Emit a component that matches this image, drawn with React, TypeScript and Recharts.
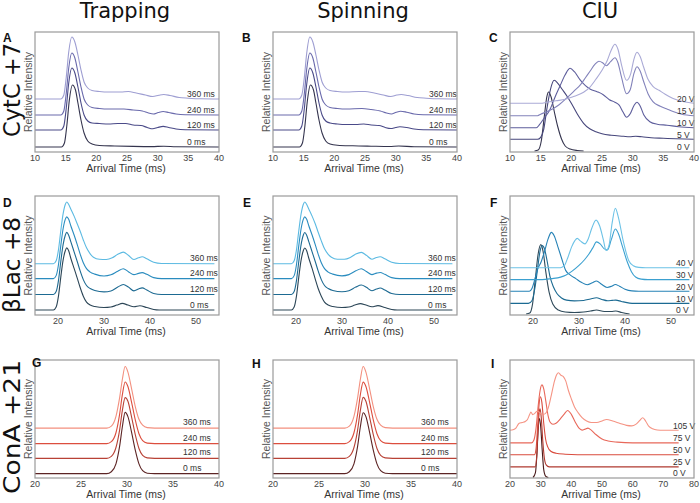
import { LineChart, Line, XAxis, YAxis, ReferenceDot } from "recharts";

type Pt = [number, number];

// ---- text ----
const columnTitles = ["Trapping", "Spinning", "CIU"];
const rowLabels = ["CytC +7", "\u03B2Lac +8", "ConA +21"];
const panelLetters = ["A", "B", "C", "D", "E", "F", "G", "H", "I"];
const timeLabels = ["0 ms", "120 ms", "240 ms", "360 ms"];
const ciuLabelsCytC = ["0 V", "5 V", "10 V", "15 V", "20 V"];
const ciuLabelsBLac = ["0 V", "10 V", "20 V", "30 V", "40 V"];
const ciuLabelsConA = ["0 V", "25 V", "50 V", "75 V", "105 V"];

// ---- x axis ticks ----
const ticksCytC = [10, 15, 20, 25, 30, 35, 40];
const ticksBLac = [20, 30, 40, 50];
const ticksConA = [20, 25, 30, 35, 40];
const ticksConACiu = [20, 30, 40, 50, 60, 70, 80];

// ---- baselines (stack offsets, intensity units) ----
const offsetsA = [5, 22, 37, 53];
const offsetsB = [5, 22, 37, 53];
const offsetsC = [1, 12.7, 24.3, 36.3, 48.7];
const offsetsD = [5, 20.7, 36.7, 51.7];
const offsetsE = [5, 20.7, 36.7, 51.7];
const offsetsF = [1, 11.7, 24, 35.7, 47.7];
const offsetsG = [4.4, 20, 35, 50.7];
const offsetsH = [4.4, 20, 35, 50.7];
const offsetsI = [0.5, 11.3, 23.7, 35.7, 48.5];

// ---- CytC +7, trapping ----
const a0: Pt[] = [[10,0],[14.3,0],[14.8,4],[15.2,22],[15.6,47],[16.1,62],[16.6,57],[17,44],[17.5,27],[18,14],[18.6,6],[19.3,3],[20.5,1.5],[23,1],[26,0.6],[29,0.4],[31,0.8],[33,0.3],[40,0]];
const a1: Pt[] = [[10,0],[14.2,0],[14.7,4],[15.1,22],[15.5,47],[16,62],[16.5,57],[17,43],[17.5,27],[18,15],[18.6,9],[19.3,7],[20.5,6.5],[22,6],[23.5,6.5],[24.8,6.5],[26,5],[27.3,4.5],[28.3,2.5],[29.2,1.2],[30,2.5],[30.9,3.6],[31.8,2.5],[33,1],[34.5,0.3],[40,0]];
const a2: Pt[] = [[10,0],[14.2,0],[14.7,4],[15.1,22],[15.5,47],[16,62],[16.5,57],[17,43],[17.5,28],[18,16],[18.6,10],[19.3,7.5],[20.5,6.5],[22,6],[24.5,6],[26,5],[27.5,4],[28.5,2],[29.3,1],[30.1,2.5],[30.9,3.5],[31.8,2.5],[33,1],[34.5,0.3],[40,0]];
const a3: Pt[] = [[10,0],[14.2,0],[14.7,4],[15.1,22],[15.5,47],[16,62],[16.5,57],[17,44],[17.5,29],[18,17],[18.6,11],[19.3,8.5],[20.5,7.5],[22,7],[24,7],[25.2,7.5],[26.5,6],[28,4],[29.2,2.5],[30.2,3.8],[31,4.5],[32,3.5],[33.5,1.5],[35,0.8],[37,0.2],[40,0]];

// ---- CytC +7, spinning ----
const b0: Pt[] = [[10,0],[14.3,0],[14.8,4],[15.2,21],[15.6,46],[16.1,62],[16.6,57],[17,44],[17.5,27],[18,14],[18.6,6],[19.3,3],[20.5,1.8],[23,1.2],[26,0.8],[29,0.5],[30.5,1],[33,0.3],[40,0]];
const b1: Pt[] = [[10,0],[14.2,0],[14.7,4],[15.1,21],[15.5,46],[16,62],[16.5,57],[17,43],[17.5,27],[18,15],[18.6,9],[19.3,7],[20.5,6],[22,5.5],[23.5,5.5],[24.8,6],[26,5],[27.3,4.5],[28.3,2.5],[29.2,1.5],[30,2.5],[30.7,3.2],[31.8,2.5],[33,1],[34.5,0.3],[40,0]];
const b2: Pt[] = [[10,0],[14.2,0],[14.7,4],[15.1,21],[15.5,46],[16,62],[16.5,57],[17,43],[17.5,28],[18,16],[18.6,10],[19.3,7.5],[20.5,6.5],[22,6],[24.5,6.5],[26,5.5],[27.5,4],[28.5,2],[29.3,1],[30.1,2.8],[30.8,3.8],[31.8,2.8],[33,1],[34.5,0.3],[40,0]];
const b3: Pt[] = [[10,0],[14.2,0],[14.7,4],[15.1,21],[15.5,46],[16,62],[16.5,57],[17,44],[17.5,29],[18,17],[18.6,11],[19.3,8.5],[20.5,7.5],[22,7],[24,7.5],[25,7.5],[26.5,6],[28,4],[29.2,2.5],[30.2,4],[30.9,4.5],[32,3.5],[33.5,1.5],[35,0.8],[37,0.2],[40,0]];

// ---- CytC +7, CIU ----
const c0: Pt[] = [[14,0],[14.6,1],[15.1,10],[15.6,35],[16,54],[16.3,59],[16.7,54],[17.2,40],[17.8,24],[18.4,12],[19,5],[19.8,2],[21,0.5],[22,0]];
const c5: Pt[] = [[10,0],[14.5,0],[15,2],[15.5,10],[16,30],[16.6,50],[17.2,59],[17.8,56],[18.5,50],[19.3,43],[20,36],[21,25],[22,16],[23,10.5],[24,7.5],[25,5.5],[26.5,4],[28.5,3],[29.5,2.5],[30.5,3],[31.5,2.5],[33,1.5],[35,1],[37,0.5],[40,0]];
const c10: Pt[] = [[10,0],[14.3,0],[14.8,3],[15.5,9],[16.5,18],[17.3,30],[18.1,41],[19,53],[19.8,59.4],[20.5,56],[21.4,48],[22.3,42],[23.1,38.5],[24.2,36],[25.2,33],[26.2,28],[27.1,25.5],[27.8,22.5],[28.4,16],[29,10.5],[29.6,14],[30.2,22],[30.7,25.4],[31.2,22],[31.8,13],[32.8,6],[34,3.5],[35.6,2.5],[37.5,1],[40,0]];
const c15: Pt[] = [[10,0],[14.5,0],[15,1.5],[16,4],[17,7],[18,11],[19.3,18],[20.5,25],[21.5,31],[22.3,38],[23.1,45],[23.8,51],[24.5,54.5],[25.1,53],[25.7,50],[26.4,54],[27.1,58],[27.6,53],[28.2,38],[29,22],[29.6,26],[30.2,42],[30.7,49],[31.2,45],[31.8,34],[32.5,22],[33.3,14],[34.5,9.5],[35.5,7],[36.7,4],[38,1.5],[40,0]];
const c20: Pt[] = [[10,0],[15,0],[16,1],[17.5,2.5],[19,4],[20.5,7],[22,11],[23,16],[24,24],[25,33],[25.8,42],[26.5,53],[27.1,59],[27.6,54],[28.2,38],[29,23],[29.7,30],[30.2,44],[30.7,51],[31.2,47],[31.8,36],[32.5,24],[33.3,17],[34.3,13],[35.3,9],[36.5,5],[38,2],[40,0]];

// ---- bLac +8, trapping ----
const d0: Pt[] = [[15,0],[19,0],[19.6,3],[20.1,14],[20.6,33],[21.1,50],[21.6,60],[21.9,62.7],[22.3,60],[22.8,52],[23.5,42],[24.2,32],[24.8,23],[25.5,14],[26.2,8],[27,5],[28,3.5],[30,2.5],[31.5,3],[32.8,5],[34,6.7],[35.2,5],[36.5,3.3],[37.8,4.3],[39.3,2.5],[40.8,0.5],[42,0],[54,0]];
const d1: Pt[] = [[15,0],[19,0],[19.6,3],[20.1,14],[20.6,33],[21.1,50],[21.6,60],[21.9,62.6],[22.3,60],[22.8,53],[23.5,43],[24.2,33],[24.8,24],[25.5,15],[26.2,9],[27,6],[28,4],[30,2.6],[31.5,3.5],[33,7.5],[34.2,10],[35.3,7.5],[36.5,3.6],[37.5,5.5],[38.3,6.7],[39.3,4.5],[40.8,1],[42.5,0],[54,0]];
const d2: Pt[] = [[15,0],[19,0],[19.6,3],[20.1,14],[20.6,33],[21.1,50],[21.6,60],[21.9,62.3],[22.3,60],[22.8,53],[23.5,44],[24.2,34],[24.8,25],[25.5,16],[26.2,10],[27,6.5],[28,4.5],[30,2.6],[31.5,3.8],[33,7.5],[34.2,10],[35.3,7],[36.5,4],[37.5,5.3],[38.3,6],[39.3,4.3],[40.8,1],[42.5,0],[54,0]];
const d3: Pt[] = [[15,0],[19,0],[19.6,3],[20.1,14],[20.6,33],[21.1,50],[21.6,60],[21.9,62.3],[22.3,60],[22.8,55],[23.5,48],[24.2,40],[24.8,33],[25.5,24],[26.2,16],[27,10],[27.7,6.6],[29,4.5],[30.5,4.3],[31.8,6],[33,9.5],[34.2,11.7],[35.3,8.5],[36.5,4.3],[37.5,6],[38.3,7],[39.3,5],[40.8,1.5],[42.5,0.3],[54,0]];

// ---- bLac +8, spinning ----
const e0: Pt[] = [[15,0],[19,0],[19.6,3],[20.1,14],[20.6,33],[21.1,50],[21.6,60],[21.9,62.5],[22.3,60],[22.8,52],[23.5,42],[24.2,31],[24.8,22],[25.5,14],[26.2,8],[27,5],[28,3.5],[30,2.5],[31.5,3],[32.8,5],[34,6.5],[35.2,5],[36.5,3.3],[37.8,4.5],[39.3,2.5],[40.8,0.5],[42,0],[54,0]];
const e1: Pt[] = [[15,0],[19,0],[19.6,3],[20.1,14],[20.6,33],[21.1,50],[21.6,60],[21.9,62.5],[22.3,60],[22.8,53],[23.5,43],[24.2,33],[24.8,24],[25.5,15],[26.2,9],[27,6],[28,4],[30,2.8],[31.5,3.8],[33,7.5],[34.2,9.5],[35.3,7.2],[36.5,3.8],[37.5,5.5],[38.3,6.5],[39.3,4.5],[40.8,1],[42.5,0],[54,0]];
const e2: Pt[] = [[15,0],[19,0],[19.6,3],[20.1,14],[20.6,33],[21.1,50],[21.6,60],[21.9,62.3],[22.3,60],[22.8,53],[23.5,44],[24.2,34],[24.8,25],[25.5,16],[26.2,10],[27,6.5],[28,4.5],[30,2.8],[31.5,4],[33,7.8],[34.2,10],[35.3,7.2],[36.5,4],[37.5,5.5],[38.3,6.2],[39.3,4.3],[40.8,1],[42.5,0],[54,0]];
const e3: Pt[] = [[15,0],[19,0],[19.6,3],[20.1,14],[20.6,33],[21.1,50],[21.6,60],[21.9,62.3],[22.3,60],[22.8,55],[23.5,48],[24.2,40],[24.8,32],[25.5,23],[26.2,15],[27,9.5],[27.7,6.5],[29,4.5],[30.5,4.5],[31.8,6.3],[33,9.8],[34.2,11.5],[35.3,8.5],[36.5,4.5],[37.5,6.3],[38.3,7],[39.3,5],[40.8,1.5],[42.5,0.3],[54,0]];

// ---- bLac +8, CIU ----
const f0: Pt[] = [[18.5,0],[19.3,1],[19.9,10],[20.5,35],[21.1,60],[21.7,70],[22.2,63],[22.8,42],[23.5,22],[24.3,10],[25.5,4],[27,2],[29,1.5],[31,2],[32.5,3],[33.8,4],[35.5,2.5],[37,2.5],[38,3],[39.3,1.5],[41,0]];
const f10: Pt[] = [[15,0],[19,0],[19.8,3],[20.4,15],[21,35],[21.5,52],[22,58.3],[22.5,55],[23.1,42],[23.7,27],[24.4,17],[25.2,10],[26.2,5.5],[27.3,3.3],[29,2.5],[31,3],[32.5,4.5],[33.8,5.7],[35,4],[36.2,2.7],[37.2,3],[38,3.3],[39.2,2],[41,0.3],[42,0],[54,0]];
const f20: Pt[] = [[15,0],[19.2,0],[19.8,3],[20.4,12],[21,22],[21.8,30],[22.5,40],[23.3,53],[24,59.3],[24.6,56],[25.4,45],[26.3,32],[27.1,21],[28.2,16],[29.3,12.7],[30.5,9],[31.8,6.5],[32.9,8.5],[33.8,10.3],[34.9,7],[36.1,3.8],[37.1,5],[37.9,6.7],[38.8,5],[40,2],[41.5,0.3],[43,0],[54,0]];
const f30: Pt[] = [[15,0],[22,0],[24,1],[26,2.5],[27.1,4.3],[28.5,8.5],[30,14.3],[31.2,20],[32.2,26],[33,32],[33.8,38],[34.6,36],[35.5,31],[36.2,30],[37,40],[37.9,51],[38.6,46],[39.4,34],[40.5,17.7],[41.4,8],[42.3,2.6],[43.5,0.5],[45,0],[54,0]];
const f40: Pt[] = [[15,0],[26,0],[26.8,2],[27.6,10.6],[28.4,21],[29.1,27.3],[29.6,29.6],[30.3,27],[31.3,24],[32,29],[32.8,40],[33.7,48],[34.5,42],[35.3,28],[35.9,17.3],[36.5,22],[37.2,45],[37.9,60],[38.6,50],[39.6,27.3],[40.8,7.3],[41.8,2],[43,0.3],[44.5,0],[54,0]];

// ---- ConA +21, trapping ----
const g0: Pt[] = [[20,0],[27.8,0],[28.3,2],[28.8,10],[29.2,28],[29.5,48],[29.8,62.3],[30.1,58],[30.5,42],[30.9,24],[31.3,10],[31.7,3],[32.2,0.5],[33,0],[40,0]];
const g1: Pt[] = [[20,0],[27.8,0],[28.3,2],[28.8,11],[29.2,29],[29.5,49],[29.8,61.7],[30.1,58],[30.5,42],[30.9,24],[31.3,10],[31.7,3],[32.2,0.5],[33,0],[40,0]];
const g2: Pt[] = [[20,0],[27.8,0],[28.3,2],[28.8,11],[29.2,30],[29.5,50],[29.8,62.7],[30.1,58],[30.5,42],[30.9,24],[31.3,10],[31.7,3],[32.2,0.5],[33,0],[40,0]];
const g3: Pt[] = [[20,0],[27.8,0],[28.3,2],[28.8,12],[29.2,31],[29.5,50],[29.8,62.7],[30.1,57],[30.5,40],[30.9,22],[31.3,9],[31.7,3],[32.2,0.5],[33,0],[40,0]];

// ---- ConA +21, spinning ----
const h0: Pt[] = [[20,0],[27.8,0],[28.3,2],[28.8,10],[29.2,28],[29.5,48],[29.8,62],[30.1,58],[30.5,42],[30.9,24],[31.3,10],[31.7,3],[32.2,0.5],[33,0],[40,0]];
const h1: Pt[] = [[20,0],[27.8,0],[28.3,2],[28.8,11],[29.2,29],[29.5,49],[29.8,62],[30.1,58],[30.5,42],[30.9,24],[31.3,10],[31.7,3],[32.2,0.5],[33,0],[40,0]];
const h2: Pt[] = [[20,0],[27.8,0],[28.3,2],[28.8,11],[29.2,30],[29.5,50],[29.8,62.5],[30.1,58],[30.5,42],[30.9,24],[31.3,10],[31.7,3],[32.2,0.5],[33,0],[40,0]];
const h3: Pt[] = [[20,0],[27.8,0],[28.3,2],[28.8,12],[29.2,31],[29.5,50],[29.8,62.7],[30.1,57],[30.5,40],[30.9,22],[31.3,9],[31.7,3],[32.2,0.5],[33,0],[40,0]];

// ---- ConA +21, CIU ----
const i0: Pt[] = [[27.5,0],[28.3,5],[28.8,25],[29.2,50],[29.6,60],[30,52],[30.5,28],[31,8],[31.6,1.5],[32.5,0]];
const i25: Pt[] = [[20,0],[28.2,0],[28.7,10],[29.1,35],[29.5,55],[29.8,59],[30.2,50],[30.7,26],[31.2,9],[31.8,2],[32.8,0],[75,0]];
const i50: Pt[] = [[20,0],[28,0],[28.5,6],[29,28],[29.5,52],[29.9,59],[30.4,53],[31,32],[31.6,16],[32.3,8],[33.3,3.5],[35,1.5],[38,0.5],[42,0],[75,0]];
const i75: Pt[] = [[20,0],[27,0],[27.8,3],[28.5,15],[29.2,38],[29.8,53],[30.4,59],[31,55],[31.7,42],[32.4,28],[33.1,21],[34,19],[35,20],[36.3,24],[37.6,29],[38.8,33],[40,29],[41.3,21],[42.5,15],[43.5,13],[44.5,14],[45.4,15],[46.5,13],[48,8.5],[50,4],[52,2],[55,0.8],[60,0],[75,0]];
const i105: Pt[] = [[20,0],[21,0.5],[22,2.5],[22.9,7],[24,8],[25,9],[25.7,11],[26.4,16],[26.8,18.5],[27.4,16],[28,17],[28.9,19.5],[29.7,18],[30.5,16],[31.5,17],[32.5,23],[33.5,36],[34.5,50],[35.3,57],[35.8,58.5],[36.6,56],[37.4,54.5],[38.2,50],[39,41],[40,32],[41,24],[42.2,18],[43.5,13],[45,9.5],[46.5,8],[48.3,8],[50,9.5],[51.5,11],[53.5,9.5],[55.9,7],[58,5],[59.7,4.5],[61,6],[62.3,10],[63.3,12.8],[64.3,9],[65.3,4],[66.5,1.5],[68,0.3],[70,0],[75,0]];

// ---- colours ----
const purples = ["#34344e", "#4a4a88", "#6a6aac", "#9e9ed2"];
const purplesCiu = ["#34344e", "#47477c", "#5e5e9c", "#8282ba", "#aaaad6"];
const blues = ["#2c4657", "#1d6a92", "#2a8cbf", "#5cbae2"];
const bluesCiu = ["#2f4a5a", "#1b6a92", "#2682b6", "#3ba0d0", "#6cc2e6"];
const reds = ["#5c2424", "#b84236", "#dc4e3e", "#f3907f"];
const redsCiu = ["#4a1c1c", "#b03a30", "#d94b3d", "#e8685a", "#f59484"];

interface PanelDef {
  letter: string;
  left: number;
  top: number;
  width: number;
  height: number;
  domain: [number, number];
  ticks: number[];
  traces: Pt[][];
  offsets: number[];
  labels: string[];
  colors: string[];
  labelInset: number;
  labelLift: number;
}

const colLeft = [35, 273, 510];
const rowTop = [32, 196, 360];
const rowH = [120, 119, 118];
const boxW = 184;

const mk = (r: number, c: number, rest: Omit<PanelDef, "letter" | "left" | "top" | "width" | "height">): PanelDef => ({
  letter: panelLetters[r * 3 + c],
  left: colLeft[c],
  top: rowTop[r],
  width: boxW,
  height: rowH[r],
  ...rest,
});

const panels: PanelDef[] = [
  mk(0, 0, { domain: [10, 40], ticks: ticksCytC, traces: [a0, a1, a2, a3], offsets: offsetsA, labels: timeLabels, colors: purples, labelInset: 32, labelLift: 2.5 }),
  mk(0, 1, { domain: [10, 40], ticks: ticksCytC, traces: [b0, b1, b2, b3], offsets: offsetsB, labels: timeLabels, colors: purples, labelInset: 28, labelLift: 2.5 }),
  mk(0, 2, { domain: [10, 40], ticks: ticksCytC, traces: [c0, c5, c10, c15, c20], offsets: offsetsC, labels: ciuLabelsCytC, colors: purplesCiu, labelInset: 17, labelLift: 1.5 }),
  mk(1, 0, { domain: [15, 55], ticks: ticksBLac, traces: [d0, d1, d2, d3], offsets: offsetsD, labels: timeLabels, colors: blues, labelInset: 29, labelLift: 2.5 }),
  mk(1, 1, { domain: [15, 55], ticks: ticksBLac, traces: [e0, e1, e2, e3], offsets: offsetsE, labels: timeLabels, colors: blues, labelInset: 29, labelLift: 2.5 }),
  mk(1, 2, { domain: [15, 55], ticks: ticksBLac, traces: [f0, f10, f20, f30, f40], offsets: offsetsF, labels: ciuLabelsBLac, colors: bluesCiu, labelInset: 18, labelLift: 1.5 }),
  mk(2, 0, { domain: [20, 40], ticks: ticksConA, traces: [g0, g1, g2, g3], offsets: offsetsG, labels: timeLabels, colors: reds, labelInset: 36, labelLift: 3 }),
  mk(2, 1, { domain: [20, 40], ticks: ticksConA, traces: [h0, h1, h2, h3], offsets: offsetsH, labels: timeLabels, colors: reds, labelInset: 36, labelLift: 3 }),
  mk(2, 2, { domain: [20, 80], ticks: ticksConACiu, traces: [i0, i25, i50, i75, i105], offsets: offsetsI, labels: ciuLabelsConA, colors: redsCiu, labelInset: 21, labelLift: 1.5 }),
];

const letterPos: [number, number][] = [
  [3, 42], [242, 42], [489, 42],
  [3, 207], [243, 207], [490, 207],
  [32, 367], [252, 368], [491, 368],
];
const rowLabelCenter = [90, 265, 427];
const rowLabelLength = [94, 96, 134];

const SANS = "'Liberation Sans', Arial, Helvetica, sans-serif";

function TracePanel({ p }: { p: PanelDef }) {
  const [x0, x1] = p.domain;
  return (
    <div style={{ position: "absolute", left: p.left - 6, top: p.top - 2 }}>
      <LineChart width={p.width + 12} height={p.height + 18} margin={{ top: 2, right: 6, bottom: 0, left: 6 }}>
        <XAxis
          type="number"
          dataKey="x"
          domain={[x0, x1]}
          ticks={p.ticks}
          interval={0}
          allowDataOverflow
          axisLine={false}
          tickLine={false}
          tickSize={0}
          tickMargin={3}
          height={16}
          tick={{ fontSize: 9, fill: "#444", fontFamily: SANS }}
        />
        <YAxis type="number" domain={[0, 120]} hide allowDataOverflow />
        {p.traces.map((t, i) => (
          <Line
            key={p.letter + i}
            data={t.map(([x, v]) => ({ x, y: v + p.offsets[i] }))}
            dataKey="y"
            type="monotone"
            stroke={p.colors[i]}
            strokeWidth={1.1}
            dot={false}
            activeDot={false}
            isAnimationActive={false}
          />
        ))}
        {p.labels.map((lab, i) => (
          <ReferenceDot
            key={lab}
            x={x1}
            y={p.offsets[i]}
            r={0}
            ifOverflow="visible"
            shape={(s: any) => (
              <text x={s.cx - p.labelInset} y={s.cy - p.labelLift} fontSize={8.5} fill="#333" fontFamily={SANS}>
                {lab}
              </text>
            )}
          />
        ))}
      </LineChart>
    </div>
  );
}

export default function App() {
  return (
    <div style={{ position: "absolute", left: 0, top: 0, width: 700, height: 503, background: "#fff", overflow: "hidden" }}>
      {panels.map(p => <TracePanel key={p.letter} p={p} />)}
      <svg width={700} height={503} style={{ position: "absolute", left: 0, top: 0, pointerEvents: "none" }}>
        {columnTitles.map((t, c) => (
          <text key={t} x={colLeft[c] + boxW / 2 - 2} y={17.5} textAnchor="middle" fontSize={21} fill="#111" fontFamily="'DejaVu Sans', sans-serif">
            {t}
          </text>
        ))}
        {rowLabels.map((t, r) => (
          <text
            key={t}
            transform={`translate(20,${rowLabelCenter[r]}) rotate(-90)`}
            textAnchor="middle"
            fontSize={23}
            textLength={rowLabelLength[r]}
            lengthAdjust="spacingAndGlyphs"
            fill="#111"
            fontFamily="'DejaVu Sans', sans-serif"
          >
            {t}
          </text>
        ))}
        {panels.map((p, k) => (
          <g key={p.letter}>
            <rect x={p.left} y={p.top} width={p.width} height={p.height} fill="none" stroke="#9a9a9a" strokeWidth={1.2} />
            <text x={letterPos[k][0]} y={letterPos[k][1]} fontSize={12} fontWeight="bold" fill="#111" fontFamily={SANS}>
              {p.letter}
            </text>
            <text transform={`translate(${p.left - 3},${p.top + p.height / 2}) rotate(-90)`} textAnchor="middle" fontSize={10.5} fill="#555" fontFamily={SANS}>
              Relative Intensity
            </text>
            <text x={p.left + p.width / 2 - 1} y={p.top + p.height + 20} textAnchor="middle" fontSize={10.5} fill="#333" fontFamily={SANS}>
              Arrival Time (ms)
            </text>
          </g>
        ))}
      </svg>
    </div>
  );
}
